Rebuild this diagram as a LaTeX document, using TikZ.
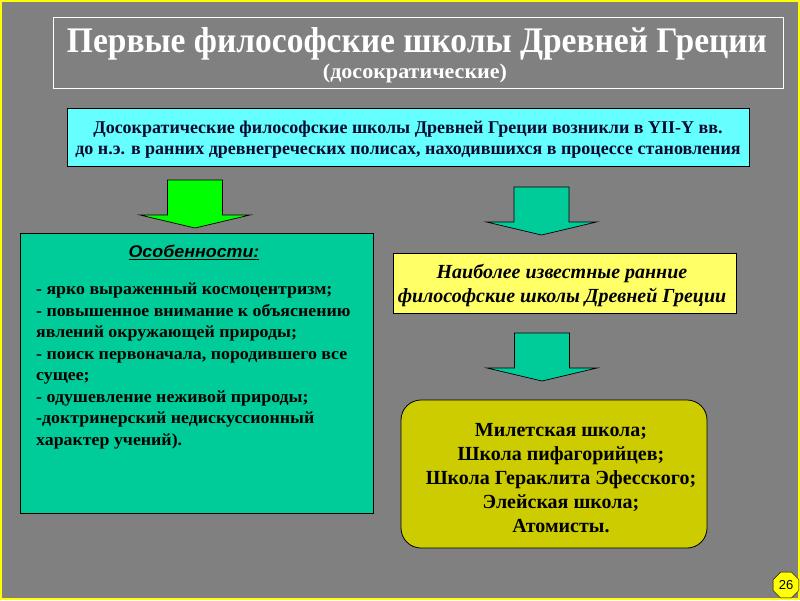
\documentclass[tikz,border=0pt]{standalone}
\usepackage{fontspec}
\setmainfont{Liberation Serif}
\newfontfamily\sansf{Liberation Sans}
\newfontfamily\featf{Liberation Sans}[FakeStretch=1.05]
\newfontfamily\titlef{Liberation Serif}[FakeStretch=0.93]
\newfontfamily\subf{Liberation Serif}[FakeStretch=1.05]
\newfontfamily\listf{Liberation Serif}[FakeStretch=1.05]
\usetikzlibrary{shapes.geometric}
\definecolor{bg}{HTML}{808080}
\definecolor{cyanbox}{HTML}{66FFFF}
\definecolor{teal}{HTML}{00CC99}
\definecolor{lgreen}{HTML}{00FF00}
\definecolor{ybox}{HTML}{FFFF66}
\definecolor{olive}{HTML}{CCCC00}
\definecolor{frame}{HTML}{FFFF00}
\definecolor{navy}{HTML}{0A0A30}
\tikzset{
  boxst/.style={draw=black, line width=0.8pt},
  txt/.style={inner sep=0pt, align=center},
  arrowst/.style={draw=black, line width=0.7pt},
  pics/blockarrow/.style={code={
    \draw[arrowst, fill=#1] (-27.5,0) -- (27.5,0) -- (27.5,35) -- (55,35) -- (0,48) -- (-55,35) -- (-27.5,35) -- cycle;}}
}
\begin{document}
\begin{tikzpicture}[x=1pt,y=-1pt]
\useasboundingbox (0,0) rectangle (800,600);
\fill[bg] (0,0) rectangle (800,600);
\draw[frame, line width=2pt] (1,1) rectangle (799,599);
% title
\draw[white, line width=0.9pt] (53,17) rectangle (783,88);
\node[txt, text=white, font=\titlef\bfseries\fontsize{36}{40}\selectfont] (title) at (417,44) {Первые философские школы Древней Греции};
\node[txt, text=white, font=\subf\bfseries\fontsize{21}{24}\selectfont] (sub) at (415,73) {(досократические)};
% cyan box
\draw[boxst, fill=cyanbox] (67,108) rectangle (749,166);
\node[txt, text=navy, font=\bfseries\fontsize{18}{21}\selectfont] (intro) at (408,139.5)
 {Досократические философские школы Древней Греции возникли в YII-Y вв.\\
  до н.э. в ранних древнегреческих полисах, находившихся в процессе становления};
% arrows
\pic at (195,180) {blockarrow=lgreen};
\pic at (541.5,187) {blockarrow=teal};
\pic at (542,333) {blockarrow=teal};
% left box
\draw[boxst, fill=teal] (20,233) rectangle (373,513);
\node[txt, font=\featf\bfseries\itshape\fontsize{17}{19}\selectfont] (feat) at (194,252) {\underline{Особенности:}};
\node[inner sep=0pt, align=left, anchor=west, font=\listf\bfseries\fontsize{17}{21.5}\selectfont] (list) at (36,366)
 {-~ярко выраженный космоцентризм;\\
  - повышенное внимание к объяснению\\
  явлений окружающей природы;\\
  - поиск первоначала, породившего все\\
  сущее;\\
  - одушевление неживой природы;\\
  -доктринерский недискуссионный\\
  характер учений).};
% yellow box
\draw[boxst, fill=ybox] (393,253) rectangle (736,313);
\node[txt, font=\bfseries\itshape\fontsize{20}{24}\selectfont] (known) at (562,285)
 {Наиболее известные ранние\\философские школы Древней Греции};
% olive box
\draw[boxst, fill=olive, rounded corners=20pt] (401,400) rectangle (707,548);
\node[txt, font=\bfseries\fontsize{20}{24}\selectfont] (schools) at (561,478)
 {Милетская школа;\\Школа пифагорийцев;\\Школа Гераклита Эфесского;\\Элейская школа;\\Атомисты.};
% page badge
\node[draw=black, fill=frame, regular polygon, regular polygon sides=8, minimum size=28pt, inner sep=0pt, font=\sansf\fontsize{13}{15}\selectfont] (pg) at (786,585) {26};
\end{tikzpicture}
\end{document}
